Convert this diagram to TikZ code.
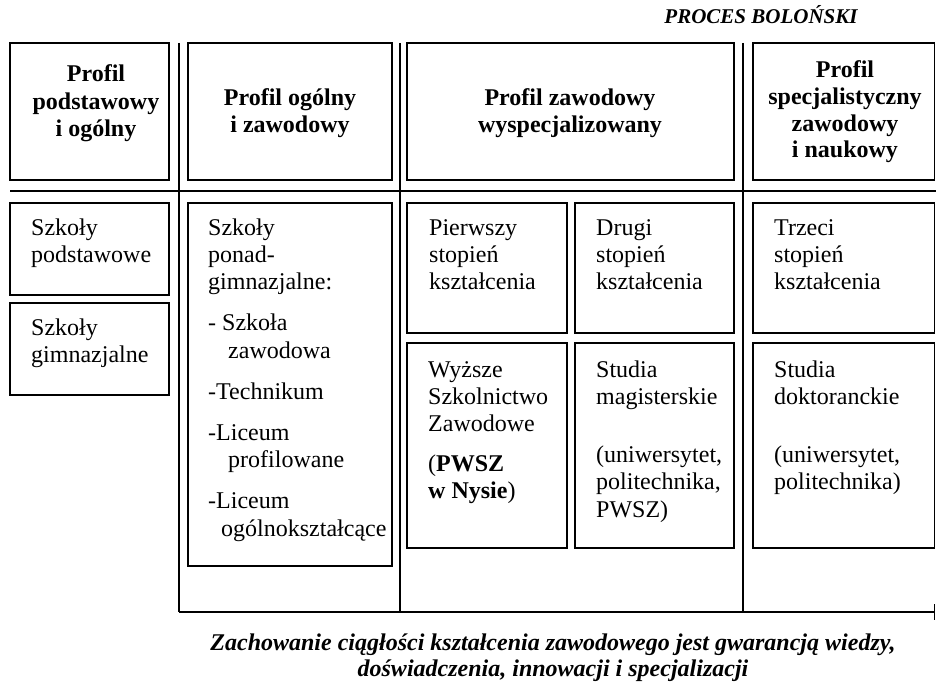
\documentclass[tikz,border=0pt]{standalone}
\usepackage{fontspec}
\setmainfont{Liberation Serif}
\usetikzlibrary{arrows.meta}
\tikzset{
  box/.style={draw, line width=1.5bp, inner sep=0pt},
  sepline/.style={line width=1.5bp},
  body/.style={anchor=base west, align=left, inner sep=0pt,
    font=\fontsize{24bp}{27.4bp}\selectfont},
  head/.style={anchor=base, align=center, inner sep=0pt,
    font=\bfseries\fontsize{24bp}{27.5bp}\selectfont},
  note/.style={anchor=base, align=center, inner sep=0pt,
    font=\bfseries\itshape\fontsize{24bp}{26bp}\selectfont},
}
\newcommand{\boxat}[5]{% name, x1, y1, x2, y2
  \node[box, minimum width={(#4-#2)*1bp}, minimum height={(#5-#3)*1bp}]
    (#1) at ({(#2+#4)/2},{(#3+#5)/2}) {};}
\begin{document}
\begin{tikzpicture}[x=1bp,y=-1bp]
\useasboundingbox (0,0) rectangle (936,682);

% header boxes
\boxat{h1}{10}{43}{169}{180}
\boxat{h2}{188}{43}{392}{180}
\boxat{h3}{407}{43}{734}{180}
\boxat{h4}{753}{43}{934.5}{180}

% content boxes
\boxat{c1a}{10}{203}{169}{295}
\boxat{c1b}{10}{303}{169}{395}
\boxat{c2}{188}{203}{392}{566}
\boxat{c3a}{407}{203}{567}{333}
\boxat{c3b}{575}{203}{734}{333}
\boxat{c4a}{753}{203}{934.5}{333}
\boxat{c3c}{407}{343}{567}{548}
\boxat{c3d}{575}{343}{734}{548}
\boxat{c4b}{753}{343}{934.5}{548}

% separator lines
\coordinate (v1t) at (179,43);  \coordinate (v1b) at (179,612);
\coordinate (v2t) at (400,43);  \coordinate (v2b) at (400,612);
\coordinate (v3t) at (743,43);  \coordinate (v3b) at (743,612);
\coordinate (hl) at (10,191);   \coordinate (hr) at (936,191);
\coordinate (be) at (935,612);
\draw[sepline] (v1t) -- (v1b);
\draw[sepline] (v2t) -- (v2b);
\draw[sepline] (v3t) -- (v3b);
\draw[sepline] (hl) -- (hr);
\draw[sepline, -{Bar[width=16bp,line width=1.5bp]}] (v1b) -- (be);

% title
\node[anchor=base, inner sep=0pt, font=\bfseries\itshape\fontsize{21bp}{24bp}\selectfont]
  (title) at (761,24) {PROCES BOLOŃSKI};

% header texts (anchored at the baseline of the last line)
\node[head] (h1t) at (96,137) {Profil\\podstawowy\\i ogólny};
\node[head] (h2t) at (290,133) {Profil ogólny\\i zawodowy};
\node[head] (h3t) at (570,133) {Profil zawodowy\\wyspecjalizowany};
\node[head, font=\bfseries\fontsize{24bp}{26.7bp}\selectfont] (h4t) at (845,158)
  {Profil\\specjalistyczny\\zawodowy\\i naukowy};

% body texts (anchored at the baseline of the last line)
\node[body] (c1at) at (31,262.4) {Szkoły\\podstawowe};
\node[body] (c1bt) at (31,362.4) {Szkoły\\gimnazjalne};
\node[body] (c2t) at (208,536) {Szkoły\\ponad-\\gimnazjalne:\\[13.6bp]
  - Szkoła\\\hspace*{20bp}zawodowa\\[13.6bp]
  -Technikum\\[13.6bp]
  -Liceum\\\hspace*{20bp}profilowane\\[13.6bp]
  -Liceum\\\hspace*{13bp}ogólnokształcące};
\node[body] (c3at) at (429,289.8) {Pierwszy\\stopień\\kształcenia};
\node[body] (c3bt) at (596,289.8) {Drugi\\stopień\\kształcenia};
\node[body] (c4at) at (774,289.8) {Trzeci\\stopień\\kształcenia};
\node[body] (c3ct) at (428,498.6) {Wyższe\\Szkolnictwo\\Zawodowe\\[12bp]
  (\textbf{PWSZ}\\\textbf{w Nysie})};
\node[body] (c3dt) at (596,517.2) {Studia\\magisterskie\\[30.6bp]
  (uniwersytet,\\politechnika,\\PWSZ)};
\node[body] (c4bt) at (774,489.8) {Studia\\doktoranckie\\[30.6bp]
  (uniwersytet,\\politechnika)};

% caption
\node[note] (cap) at (553,676) {Zachowanie ciągłości kształcenia zawodowego jest gwarancją wiedzy,\\
  doświadczenia, innowacji i specjalizacji};
\end{tikzpicture}
\end{document}
